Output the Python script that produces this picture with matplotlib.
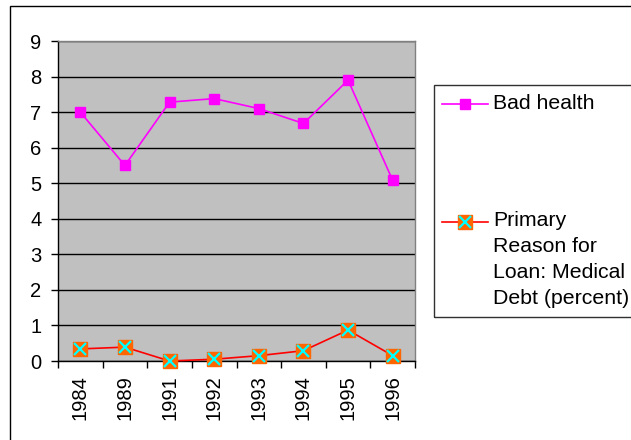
import matplotlib
matplotlib.use("Agg")
import matplotlib.pyplot as plt
from matplotlib.patches import Rectangle
from matplotlib.lines import Line2D

years = ["1984", "1989", "1991", "1992", "1993", "1994", "1995", "1996"]
bad_health = [7.0, 5.5, 7.28, 7.38, 7.1, 6.68, 7.9, 5.08]
medical_debt = [0.34, 0.39, 0.0, 0.05, 0.15, 0.29, 0.87, 0.15]
label_bad = "Bad health"
label_debt = "Primary\nReason for\nLoan: Medical\nDebt (percent)"
y_ticks = list(range(0, 10))

plt.rcParams['font.family'] = ['Liberation Sans', 'DejaVu Sans']
FS = 14.5
FSL = 15.3

W, H = 631, 440
fig = plt.figure(figsize=(W / 100, H / 100), dpi=100)
fig.patch.set_facecolor("white")

# outer chart-area border
fig.patches.append(Rectangle((10 / W, -0.1), 1.2, 1 - 6.5 / H + 0.1,
                             transform=fig.transFigure, fill=False,
                             edgecolor="black", linewidth=1.0))

ax = fig.add_axes([58 / W, 1 - 361 / H, (415 - 58) / W, (361 - 41) / H])
ax.set_facecolor("#C0C0C0")
x = list(range(len(years)))

ax.set_xlim(-0.5, len(years) - 0.5)
ax.set_ylim(0, 9)
ax.set_yticks(y_ticks)
ax.set_yticklabels([str(v) for v in y_ticks], fontsize=FS)
for v in y_ticks:
    ax.axhline(v, color="black", linewidth=1.0, zorder=1)

ax.set_xticks(x)
ax.set_xticklabels(years, rotation=90, fontsize=FS)
ax.set_xticks([i - 0.5 for i in range(len(years) + 1)], minor=True)
ax.tick_params(axis="x", which="major", length=0, pad=10)
ax.tick_params(axis="x", which="minor", length=5, width=1, color="black", direction="out")
ax.tick_params(axis="y", length=5, width=1, color="black", direction="out", pad=7)

for s in ["left", "bottom"]:
    ax.spines[s].set_color("black")
    ax.spines[s].set_linewidth(1.0)
for s in ["top", "right"]:
    ax.spines[s].set_color("#808080")
    ax.spines[s].set_linewidth(1.0)

ax.plot(x, bad_health, color="#FF00FF", linewidth=1.2, marker="s",
        markersize=6.8, markerfacecolor="#FF00FF", markeredgecolor="#FF00FF",
        zorder=3, clip_on=False)
ax.plot(x, medical_debt, color="#FF0000", linewidth=1.2, marker="s",
        markersize=10, markerfacecolor="#FF6600", markeredgecolor="#FF6600",
        zorder=3, clip_on=False)
ax.plot(x, medical_debt, linestyle="none", marker="x", markersize=9,
        markeredgecolor="#00FFFF", markeredgewidth=1.6, zorder=4, clip_on=False)

# legend (manual, Excel-style)
fig.patches.append(Rectangle((434 / W, 1 - 317 / H), 0.5, (317 - 85) / H,
                             transform=fig.transFigure, fill=False,
                             edgecolor="#303030", linewidth=1.0))

def fy(py):
    return 1 - py / H

fig.add_artist(Line2D([442 / W, 488 / W], [fy(104), fy(104)], color="#FF00FF",
                      linewidth=1.2, transform=fig.transFigure))
fig.add_artist(Line2D([465 / W], [fy(104)], marker="s", markersize=6.8,
                      color="#FF00FF", transform=fig.transFigure))
fig.text(493 / W, fy(103), label_bad, fontsize=FSL, va="center", ha="left")

fig.add_artist(Line2D([442 / W, 488 / W], [fy(222), fy(222)], color="#FF0000",
                      linewidth=1.2, transform=fig.transFigure))
fig.add_artist(Line2D([465 / W], [fy(222)], marker="s", markersize=10,
                      markerfacecolor="#FF6600", markeredgecolor="#FF6600",
                      transform=fig.transFigure))
fig.add_artist(Line2D([465 / W], [fy(222)], marker="x", markersize=9,
                      markeredgecolor="#00FFFF", markeredgewidth=1.6,
                      transform=fig.transFigure))
fig.text(493 / W, fy(211), label_debt, fontsize=FSL, va="top", ha="left",
         linespacing=1.47)

fig.savefig("out.png", dpi=100)
